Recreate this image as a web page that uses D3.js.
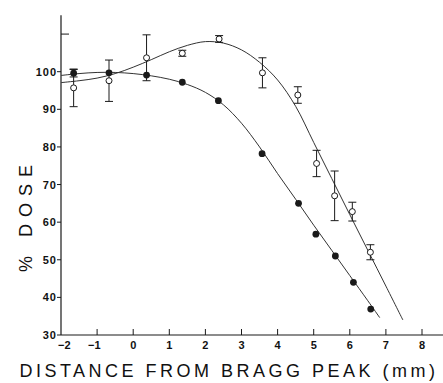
<!DOCTYPE html>
<html>
<head>
<meta charset="utf-8">
<script src="https://cdn.jsdelivr.net/npm/d3@7"></script>
<style>
  html, body { margin: 0; padding: 0; background: #fff; }
  svg { display: block; }
  text { font-family: "Liberation Sans", Arial, sans-serif; fill: #111; }
</style>
</head>
<body>
<svg id="chart" width="443" height="383"></svg>
<script>
// Distance from the Bragg peak (mm) and percent dose, two measured series
const filledX   = [-1.65, -0.67, 0.37, 1.36, 2.36, 3.57, 4.58, 5.06, 5.60, 6.10, 6.58];
const filledY   = [99.6, 99.7, 99.1, 97.2, 92.3, 78.2, 65.0, 56.8, 51.0, 44.0, 36.9];
const filledErr = [1.0, 0, 0, 0, 0, 0, 0, 0, 0, 0, 0];

const openX   = [-1.65, -0.67, 0.37, 1.36, 2.38, 3.58, 4.56, 5.08, 5.58, 6.07, 6.57];
const openY   = [95.7, 97.6, 103.7, 104.9, 108.7, 99.7, 93.8, 75.6, 67.0, 62.8, 52.0];
const openErr = [5.0, 5.5, 6.1, 0.8, 0.9, 4.0, 2.2, 3.5, 6.6, 2.5, 2.0];

// Fitted curves through each series
const filledFitX = [-2, -1.5, -1, -0.5, 0, 0.5, 1, 1.5, 2, 2.5, 3, 3.5, 4, 4.5, 5, 5.5, 6, 6.5, 6.83];
const filledFitY = [99.0, 99.5, 99.8, 99.8, 99.5, 98.9, 98.0, 96.6, 94.5, 91.2, 86.3, 80.0, 72.9, 66.1, 59.2, 52.5, 45.8, 39.1, 34.6];
const openFitX = [-2, -1.5, -1, -0.5, 0, 0.5, 1, 1.5, 2, 2.5, 3, 3.5, 4, 4.5, 5, 5.5, 6, 6.5, 7, 7.47];
const openFitY = [97.1, 97.6, 98.3, 99.5, 101.2, 103.2, 105.3, 107.0, 108.0, 107.6, 105.8, 102.5, 97.8, 90.8, 81.2, 71.6, 62.0, 52.5, 43.0, 34.0];

const xTicks = [-2, -1, 0, 1, 2, 3, 4, 5, 6, 7, 8];
const yTicks = [30, 40, 50, 60, 70, 80, 90, 100];
const yTickUnlabelled = [110];

const svg = d3.select("#chart");
const ink = "#1a1a1a";

const x = d3.scaleLinear().domain([-2, 8]).range([61, 422]);
const y = d3.scaleLinear().domain([30, 100]).range([335, 71.7]);

// Axes lines
svg.append("line").attr("x1", x(-2)).attr("x2", x(8.6)).attr("y1", y(30)).attr("y2", y(30))
  .attr("stroke", ink).attr("stroke-width", 1.2);
svg.append("line").attr("x1", x(-2)).attr("x2", x(-2)).attr("y1", y(30)).attr("y2", y(115))
  .attr("stroke", ink).attr("stroke-width", 1.2);

// x ticks point up into the plot
xTicks.filter(d => d > -2).forEach(d => {
  svg.append("line").attr("x1", x(d)).attr("x2", x(d)).attr("y1", y(30)).attr("y2", y(30) - 6)
    .attr("stroke", ink).attr("stroke-width", 1);
});
svg.append("g").selectAll("text").data(xTicks).join("text")
  .attr("x", d => d === -2 ? x(d) - 3 : (d < 0 ? x(d) + 3.5 : x(d)))
  .attr("y", 349)
  .attr("text-anchor", d => d === -2 ? "start" : (d < 0 ? "end" : "middle"))
  .style("font-size", "11px").style("font-weight", "bold")
  .text(d => d < 0 ? "\u2212" + Math.abs(d) : d);

// y ticks point left, labelled
yTicks.forEach(d => {
  svg.append("line").attr("x1", x(-2) - 4).attr("x2", x(-2)).attr("y1", y(d)).attr("y2", y(d))
    .attr("stroke", ink).attr("stroke-width", 1);
});
yTickUnlabelled.forEach(d => {
  svg.append("line").attr("x1", x(-2)).attr("x2", x(-2) + 8).attr("y1", y(d)).attr("y2", y(d))
    .attr("stroke", ink).attr("stroke-width", 1);
});
svg.append("g").selectAll("text").data(yTicks).join("text")
  .attr("x", x(-2) - 4).attr("y", d => y(d) + 4)
  .attr("text-anchor", "end")
  .style("font-size", "11px").style("font-weight", "bold").style("letter-spacing", "1px")
  .text(d => d);

// Axis titles
svg.append("text").attr("x", 229).attr("y", 377).attr("text-anchor", "middle")
  .style("font-size", "18px").style("letter-spacing", "3.5px")
  .text("DISTANCE FROM BRAGG PEAK (mm)");
svg.append("text").attr("transform", "translate(32,215) rotate(-90)").attr("text-anchor", "middle")
  .style("font-size", "18px").style("letter-spacing", "7px")
  .text("% DOSE");

// Fitted curves
const line = d3.line().x(d => x(d[0])).y(d => y(d[1])).curve(d3.curveCatmullRom.alpha(0.5));
svg.append("path").datum(d3.zip(filledFitX, filledFitY)).attr("d", line)
  .attr("fill", "none").attr("stroke", "#333").attr("stroke-width", 1);
svg.append("path").datum(d3.zip(openFitX, openFitY)).attr("d", line)
  .attr("fill", "none").attr("stroke", "#333").attr("stroke-width", 1);

// Error bars
function errorBars(xs, ys, es) {
  const g = svg.append("g").attr("stroke", ink).attr("stroke-width", 1);
  xs.forEach((xv, i) => {
    const e = es[i];
    if (!e) return;
    const cx = x(xv), y1 = y(ys[i] + e), y2 = y(ys[i] - e);
    g.append("line").attr("x1", cx).attr("x2", cx).attr("y1", y1).attr("y2", y2);
    g.append("line").attr("x1", cx - 4).attr("x2", cx + 4).attr("y1", y1).attr("y2", y1);
    g.append("line").attr("x1", cx - 4).attr("x2", cx + 4).attr("y1", y2).attr("y2", y2);
  });
}
errorBars(openX, openY, openErr);
errorBars(filledX, filledY, filledErr);

// Markers
svg.append("g").selectAll("circle").data(d3.zip(openX, openY)).join("circle")
  .attr("cx", d => x(d[0])).attr("cy", d => y(d[1])).attr("r", 3)
  .attr("fill", "#fff").attr("stroke", ink).attr("stroke-width", 1);
svg.append("g").selectAll("circle").data(d3.zip(filledX, filledY)).join("circle")
  .attr("cx", d => x(d[0])).attr("cy", d => y(d[1])).attr("r", 3.4)
  .attr("fill", ink);
</script>
</body>
</html>
